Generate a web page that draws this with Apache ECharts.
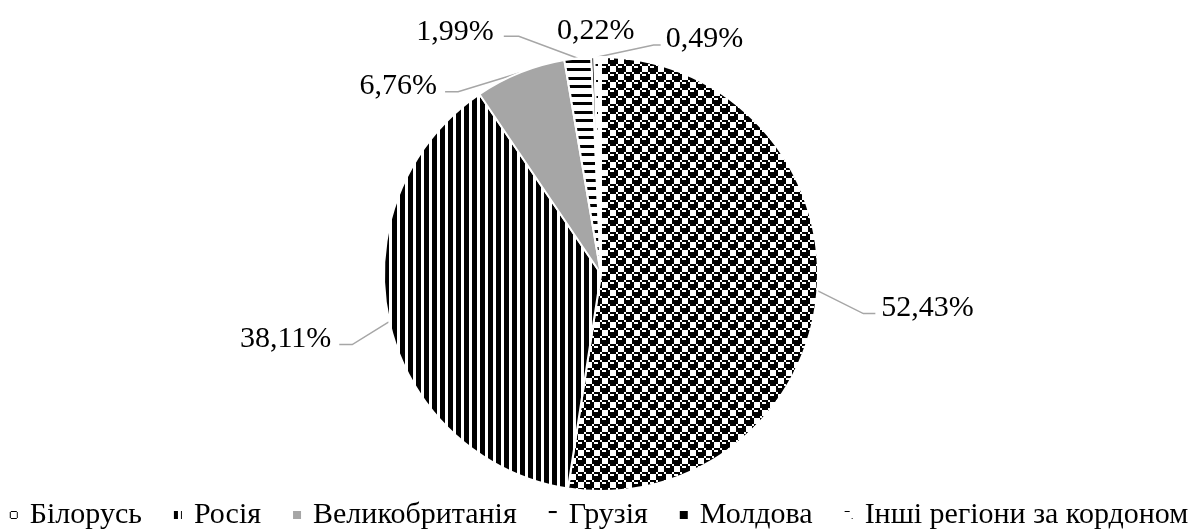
<!DOCTYPE html>
<html>
<head>
<meta charset="utf-8">
<script src="https://cdn.jsdelivr.net/npm/echarts@6/dist/echarts.min.js"></script>
<style>
  html, body { margin: 0; padding: 0; background: #fff; }
  #chart { width: 1196px; height: 529px; }
</style>
</head>
<body>
<div id="chart"></div>
<script>
// Regions and their shares, %
const categories = ['Білорусь', 'Росія', 'Великобританія', 'Грузія', 'Молдова', 'Інші регіони за кордоном'];
const shares = [52.43, 38.11, 6.76, 1.99, 0.22, 0.49];

// Leader line / label placement relative to the slice's outer edge point:
// [elbow, line end, text anchor, text align]
const labelPlacement = [
  [[46, 23], [58, 23], [64, 18], 'left'],
  [[-37, 23], [-50, 23], [-58, 18], 'right'],
  [[-62, 19], [-75, 19], [-83, 13], 'right'],
  [[-59, -22], [-74, -22], [-84, -26], 'right'],
  [null, null, [3, -26], 'center'],
  [[56, -12], [63, -12], [68, -18], 'left']
];

const FONT = "'Liberation Serif', 'Times New Roman', serif";

// Monochrome fill patterns built from 1-bit rows (MSB = leftmost pixel, 1 = black)
function bitTile(rows, scale) {
  const n = rows.length;
  const c = document.createElement('canvas');
  c.width = 8 * scale; c.height = n * scale;
  const ctx = c.getContext('2d');
  ctx.fillStyle = '#fff';
  ctx.fillRect(0, 0, c.width, c.height);
  ctx.fillStyle = '#000';
  rows.forEach((bits, y) => {
    for (let x = 0; x < 8; x++) {
      if (bits & (0x80 >> x)) ctx.fillRect(x * scale, y * scale, scale, scale);
    }
  });
  return { image: c, repeat: 'repeat' };
}

function tile(w, h, draw) {
  const c = document.createElement('canvas');
  c.width = w; c.height = h;
  const ctx = c.getContext('2d');
  ctx.fillStyle = '#fff';
  ctx.fillRect(0, 0, w, h);
  ctx.fillStyle = '#000';
  draw(ctx);
  return { image: c, repeat: 'repeat' };
}

// "sphere" hatch: staggered black blocks with a light notch
const sphere = bitTile([0x77, 0x89, 0x8f, 0x8f, 0x77, 0x98, 0xf8, 0xf8], 2);
const vertical = tile(8, 8, ctx => { ctx.fillRect(0, 0, 5, 8); });
const horizontal = tile(8, 17, ctx => {
  ctx.fillRect(0, 0, 8, 3);
  ctx.fillRect(0, 9, 8, 3);
});
const sparse = bitTile([0xe0, 0, 0, 0, 0x08, 0, 0, 0], 2);

const fills = [sphere, vertical, '#a6a6a6', horizontal, '#000', sparse];

const fmt = v => v.toFixed(2).replace('.', ',') + '%';

const chart = echarts.init(document.getElementById('chart'), null, { renderer: 'canvas' });

chart.setOption({
  animation: false,
  backgroundColor: '#fff',
  legend: {
    data: categories,
    left: 'center',
    top: 495,
    icon: 'rect',
    itemWidth: 10,
    itemHeight: 10,
    itemGap: 30,
    selectedMode: false,
    textStyle: { fontFamily: FONT, fontSize: 30, color: '#000', padding: [0, 0, 0, 6] }
  },
  series: [{
    type: 'pie',
    center: ['50.25%', '51.8%'],
    radius: 217,
    startAngle: 90,
    clockwise: true,
    avoidLabelOverlap: false,
    silent: true,
    itemStyle: { borderColor: '#fff', borderWidth: 2 },
    label: {
      show: true,
      position: 'outside',
      fontFamily: FONT,
      fontSize: 30,
      color: '#000',
      formatter: p => fmt(p.value)
    },
    labelLine: {
      show: true,
      length: 20,
      length2: 10,
      lineStyle: { color: '#a6a6a6', width: 1.5 }
    },
    labelLayout: function (p) {
      const pts = p.labelLinePoints;
      const place = labelPlacement[p.dataIndex];
      if (!pts || !place) return {};
      const p0 = pts[0];
      const out = {
        x: p0[0] + place[2][0],
        y: p0[1] + place[2][1],
        align: place[3],
        verticalAlign: 'middle'
      };
      if (place[0]) {
        out.labelLinePoints = [
          [p0[0], p0[1]],
          [p0[0] + place[0][0], p0[1] + place[0][1]],
          [p0[0] + place[1][0], p0[1] + place[1][1]]
        ];
      } else {
        out.labelLinePoints = [[p0[0], p0[1]], [p0[0], p0[1]], [p0[0], p0[1]]];
      }
      return out;
    },
    data: categories.map((name, i) => ({
      name,
      value: shares[i],
      itemStyle: { color: fills[i] },
      labelLine: labelPlacement[i][0] ? {} : { lineStyle: { opacity: 0 } }
    }))
  }]
});
</script>
</body>
</html>
